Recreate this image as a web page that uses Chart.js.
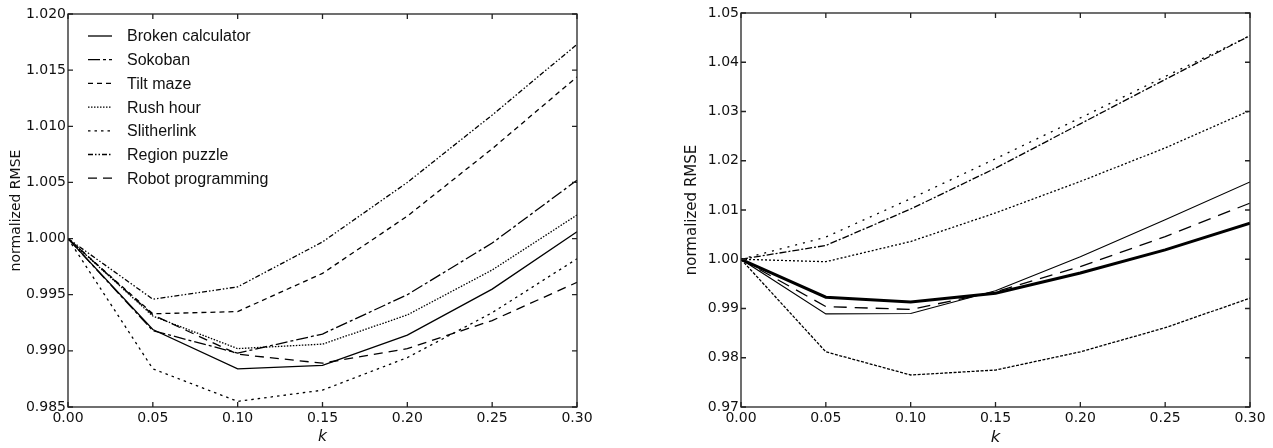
<!DOCTYPE html>
<html>
<head>
<meta charset="utf-8">
<script src="https://cdn.jsdelivr.net/npm/chart.js@4/dist/chart.umd.min.js"></script>
<style>
  body { margin: 0; background: #fff; }
  #left { position: absolute; left: 0; top: 0; }
  #right { position: absolute; left: 640px; top: 0; }
</style>
</head>
<body>
<canvas id="left" width="640" height="448"></canvas>
<canvas id="right" width="633" height="448"></canvas>
<script>
// k values (shared x axis)
var kValues = [0.00, 0.05, 0.10, 0.15, 0.20, 0.25, 0.30];

// left panel: puzzles
var brokenCalc  = [1.0000, 0.9919, 0.9884, 0.9887, 0.9914, 0.9955, 1.0006];
var sokoban     = [1.0000, 0.9918, 0.9898, 0.9915, 0.9950, 0.9996, 1.0052];
var tiltMaze    = [1.0000, 0.9933, 0.9935, 0.9969, 1.0020, 1.0080, 1.0144];
var rushHour    = [1.0000, 0.9931, 0.9902, 0.9906, 0.9932, 0.9972, 1.0021];
var slitherlink = [1.0000, 0.9884, 0.9855, 0.9865, 0.9894, 0.9934, 0.9982];
var regionPuzzle= [1.0000, 0.9946, 0.9957, 0.9997, 1.0050, 1.0110, 1.0173];
var robotProg   = [1.0000, 0.9932, 0.9897, 0.9889, 0.9902, 0.9927, 0.9961];
var leftTicks = [0.985, 0.990, 0.995, 1.000, 1.005, 1.010, 1.015, 1.020];

// right panel: skills
var globalErr   = [1.0000, 0.9923, 0.9913, 0.9931, 0.9972, 1.0019, 1.0073];
var removeConst = [1.0000, 0.9812, 0.9765, 0.9775, 0.9812, 0.9861, 0.9921];
var defineVar   = [1.0000, 0.9995, 1.0036, 1.0094, 1.0158, 1.0226, 1.0302];
var identUnits  = [1.0000, 1.0028, 1.0102, 1.0185, 1.0275, 1.0365, 1.0454];
var enterGiven  = [1.0000, 1.0045, 1.0123, 1.0204, 1.0287, 1.0371, 1.0454];
var changeAxis  = [1.0000, 0.9889, 0.9890, 0.9936, 1.0005, 1.0080, 1.0157];
var labelAxis   = [1.0000, 0.9904, 0.9898, 0.9934, 0.9985, 1.0046, 1.0114];
var rightTicks = [0.97, 0.98, 0.99, 1.00, 1.01, 1.02, 1.03, 1.04, 1.05];

function pts(arr) {
  return arr.map(function(v, i) { return {x: kValues[i], y: v}; });
}

function line(label, arr, dash, w) {
  return {
    label: label, data: pts(arr), borderColor: '#000', borderWidth: w || 1.3,
    borderDash: dash, pointRadius: 0, fill: false, tension: 0
  };
}

// frame, inward ticks and legend, matplotlib style
var mplPlugin = {
  id: 'mpl',
  afterDraw: function(chart) {
    var ctx = chart.ctx, a = chart.chartArea;
    var xs = chart.scales.x, ys = chart.scales.y;
    var o = chart.options.plugins.mpl;
    ctx.save();
    ctx.strokeStyle = '#222';
    ctx.lineWidth = 1.3;
    ctx.setLineDash([]);
    ctx.strokeRect(a.left, a.top, a.right - a.left, a.bottom - a.top);
    ctx.beginPath();
    xs.ticks.forEach(function(t) {
      var x = xs.getPixelForValue(t.value);
      ctx.moveTo(x, a.bottom); ctx.lineTo(x, a.bottom - 5);
      ctx.moveTo(x, a.top); ctx.lineTo(x, a.top + 5);
    });
    ys.ticks.forEach(function(t) {
      var y = ys.getPixelForValue(t.value);
      ctx.moveTo(a.left, y); ctx.lineTo(a.left + 5, y);
      ctx.moveTo(a.right, y); ctx.lineTo(a.right - 5, y);
    });
    ctx.stroke();

    // legend
    ctx.font = o.font;
    ctx.fillStyle = '#111';
    ctx.textBaseline = 'middle';
    chart.data.datasets.forEach(function(ds, i) {
      var y = o.y0 + i * o.dy;
      ctx.beginPath();
      ctx.lineWidth = ds.borderWidth;
      ctx.strokeStyle = '#000';
      ctx.setLineDash(ds.borderDash || []);
      ctx.moveTo(o.x0, y); ctx.lineTo(o.x1, y);
      ctx.stroke();
      ctx.fillText(ds.label, o.xt, y + 1);
    });
    ctx.restore();
  }
};

function makeChart(id, datasets, ymin, ymax, ystep, ydec, opts) {
  return new Chart(document.getElementById(id), {
    type: 'line',
    data: { datasets: datasets },
    plugins: [mplPlugin],
    options: {
      responsive: false, animation: false, devicePixelRatio: 1,
      layout: { padding: opts.pad },
      plugins: { legend: { display: false }, tooltip: { enabled: false }, mpl: opts.legend },
      scales: {
        x: {
          type: 'linear', min: 0, max: 0.3,
          grid: { display: false, drawTicks: false },
          border: { display: false },
          ticks: { stepSize: 0.05, autoSkip: false, maxRotation: 0, padding: 3, color: '#111',
                   font: { family: 'DejaVu Sans', size: 14 },
                   callback: function(v) { return v.toFixed(2); } },
          title: { display: true, text: 'k', color: '#111',
                   font: { family: 'DejaVu Sans', size: opts.titleSize + 1.5, style: 'italic' },
                   padding: { top: 0, bottom: opts.kPad } },
          afterFit: function(s) { s.height = 41; }
        },
        y: {
          min: ymin, max: ymax,
          grid: { display: false, drawTicks: false },
          border: { display: false },
          ticks: { stepSize: ystep, autoSkip: false, padding: 2, color: '#111',
                   font: { family: 'DejaVu Sans', size: 14 },
                   callback: function(v) { return v.toFixed(ydec); } },
          title: { display: true, text: 'normalized RMSE', color: '#111',
                   font: { family: 'DejaVu Sans', size: opts.titleSize },
                   padding: { top: opts.yTitlePad, bottom: 0 } },
          afterFit: function(s) { s.width = opts.yWidth; }
        }
      }
    }
  });
}

makeChart('left', [
  line('Broken calculator', brokenCalc, []),
  line('Sokoban', sokoban, [12, 3, 3, 3]),
  line('Tilt maze', tiltMaze, [5, 4]),
  line('Rush hour', rushHour, [1.5, 1.5]),
  line('Slitherlink', slitherlink, [2.5, 4]),
  line('Region puzzle', regionPuzzle, [5, 2, 1.5, 2, 1.5, 2]),
  line('Robot programming', robotProg, [9, 6])
], leftTicks[0], leftTicks[leftTicks.length - 1], 0.005, 3, {
  pad: { top: 14, right: 63, left: 0, bottom: 0 },
  yWidth: 68, yTitlePad: 8, titleSize: 14, kPad: 2,
  legend: { x0: 88, x1: 112, xt: 127, y0: 36, dy: 23.7, font: '16px "Liberation Sans"' }
});

makeChart('right', [
  line('global', globalErr, [], 3),
  line('remove constant in linear eq.', removeConst, [3, 1.5]),
  line('define variable', defineVar, [2, 2]),
  line('identifying units', identUnits, [7, 2, 2, 2]),
  line('entering a given', enterGiven, [2, 6]),
  line('changing axis bounds', changeAxis, [], 1.1),
  line('labeling the axis', labelAxis, [13, 8])
], rightTicks[0], rightTicks[rightTicks.length - 1], 0.01, 2, {
  pad: { top: 13, right: 23, left: 0, bottom: 0 },
  yWidth: 101, yTitlePad: 43, titleSize: 15, kPad: 0,
  legend: { x0: 763, x1: 790, xt: 795, y0: 40, dy: 23, font: '15.5px "Liberation Sans"' }
});
</script>
</body>
</html>
